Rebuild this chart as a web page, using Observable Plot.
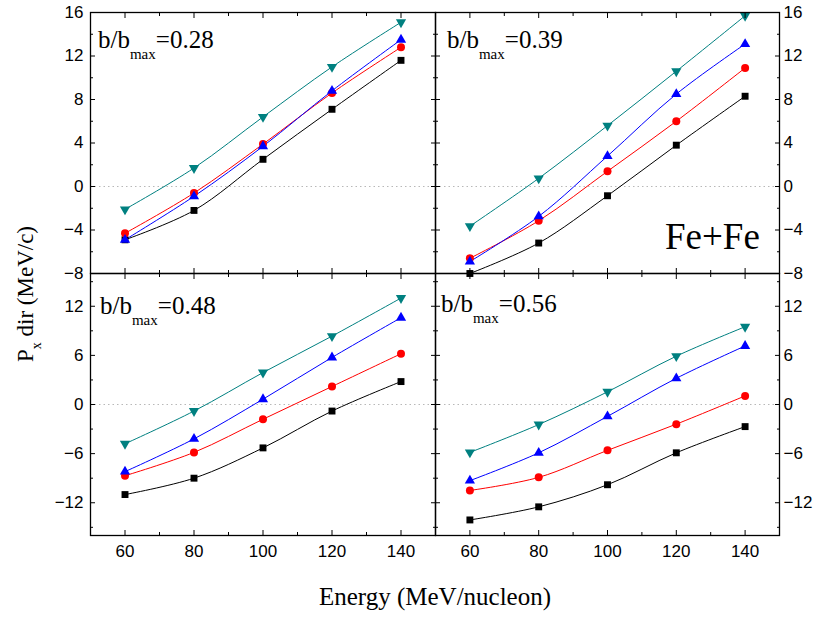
<!DOCTYPE html>
<html>
<head>
<meta charset="utf-8">
<script src="https://cdn.jsdelivr.net/npm/d3@7"></script>
<script src="https://cdn.jsdelivr.net/npm/@observablehq/plot@0.6"></script>
<style>
  html, body { margin: 0; padding: 0; background: #fff; }
  #wrap { position: relative; width: 813px; height: 618px; overflow: hidden; background: #fff; }
  #wrap > svg { position: absolute; overflow: visible; }
  .ann { position: absolute; left: 0; top: 0; pointer-events: none; }
</style>
</head>
<body>
<div id="wrap"></div>
<script>
// ---------------- data ----------------
const energy = [60, 80, 100, 120, 140];
const panelLabels = ["0.28", "0.39", "0.48", "0.56"];

// b/bmax = 0.28
const sq028 = [-4.9, -2.2, 2.5, 7.1, 11.6];
const ci028 = [-4.3, -0.6, 3.9, 8.6, 12.8];
const up028 = [-4.9, -0.9, 3.7, 8.8, 13.5];
const dn028 = [-2.1, 1.7, 6.4, 11.0, 15.1];
// b/bmax = 0.39
const sq039 = [-8.0, -5.2, -0.85, 3.8, 8.3];
const ci039 = [-6.6, -3.15, 1.4, 6.0, 10.9];
const up039 = [-6.9, -2.75, 2.8, 8.5, 13.1];
const dn039 = [-3.65, 0.75, 5.6, 10.6, 15.7];
// b/bmax = 0.48
const sq048 = [-11.0, -9.0, -5.3, -0.8, 2.8];
const ci048 = [-8.7, -5.85, -1.8, 2.2, 6.2];
const up048 = [-8.2, -4.2, 0.65, 5.75, 10.6];
const dn048 = [-4.8, -0.8, 3.9, 8.35, 13.0];
// b/bmax = 0.56
const sq056 = [-14.1, -12.5, -9.8, -5.9, -2.7];
const ci056 = [-10.5, -8.9, -5.6, -2.4, 1.05];
const up056 = [-9.3, -5.9, -1.45, 3.2, 7.15];
const dn056 = [-5.85, -2.45, 1.55, 5.9, 9.5];

// ticks
const xTicks = [60, 80, 100, 120, 140];
const xMinor = [50, 70, 90, 110, 130, 150];
const yTicksTop = [-8, -4, 0, 4, 8, 12, 16];
const yMinorTop = [-6, -2, 2, 6, 10, 14];
const yTicksBot = [-12, -6, 0, 6, 12];
const yMinorBot = [-15, -9, -3, 3, 9, 15];

// ---------------- styles ----------------
const downTriangle = {
  draw(ctx, size) {
    const y = -Math.sqrt(size / (Math.sqrt(3) * 3));
    ctx.moveTo(0, -y * 2);
    ctx.lineTo(-Math.sqrt(3) * y, y);
    ctx.lineTo(Math.sqrt(3) * y, y);
    ctx.closePath();
  }
};
const seriesStyle = [
  {key: "sq", color: "#000000", symbol: "square", r: 3.9},
  {key: "ci", color: "#ff0000", symbol: "circle", r: 4},
  {key: "up", color: "#0000ff", symbol: "triangle", r: 3.8},
  {key: "dn", color: "#008080", symbol: downTriangle, r: 3.8}
];
const panelData = [
  {sq: sq028, ci: ci028, up: up028, dn: dn028},
  {sq: sq039, ci: ci039, up: up039, dn: dn039},
  {sq: sq048, ci: ci048, up: up048, dn: dn048},
  {sq: sq056, ci: ci056, up: up056, dn: dn056}
];

const tickFont = {fontFamily: "'Liberation Sans', Arial, sans-serif", fontSize: 17, fill: "black"};

function makePanel(idx, cfg) {
  const vals = panelData[idx];
  const rows = [];
  seriesStyle.forEach(s => energy.forEach((e, i) => rows.push({series: s.key, energy: e, value: vals[s.key][i]})));
  const marks = [
    Plot.ruleY([0], {stroke: "#b8b8b8", strokeDasharray: "1.5,3", strokeWidth: 1})
  ];
  seriesStyle.forEach(s => {
    const d = rows.filter(r => r.series === s.key);
    marks.push(Plot.line(d, {x: "energy", y: "value", stroke: s.color, strokeWidth: 1, curve: "catmull-rom"}));
  });
  seriesStyle.forEach(s => {
    const d = rows.filter(r => r.series === s.key);
    marks.push(Plot.dot(d, {x: "energy", y: "value", fill: s.color, stroke: "none", symbol: s.symbol, r: s.r}));
  });
  const none = () => "";
  const labSide = cfg.side;
  const otherSide = labSide === "left" ? "right" : "left";
  // y axes
  marks.push(Plot.axisY(cfg.yTicks, {anchor: labSide, tickSize: -5, tickPadding: labSide === "left" ? 12 : 9, label: null, ...tickFont}));
  marks.push(Plot.axisY(cfg.yMinor, {anchor: labSide, tickSize: -3, tickFormat: none, label: null}));
  marks.push(Plot.axisY(cfg.yTicks, {anchor: otherSide, tickSize: -5, tickFormat: none, label: null}));
  marks.push(Plot.axisY(cfg.yMinor, {anchor: otherSide, tickSize: -3, tickFormat: none, label: null}));
  // x axes
  marks.push(Plot.axisX(xTicks, {anchor: "top", tickSize: -5, tickFormat: none, label: null}));
  marks.push(Plot.axisX(xMinor, {anchor: "top", tickSize: -3, tickFormat: none, label: null}));
  if (cfg.bottomLabels) {
    marks.push(Plot.axisX(xTicks, {anchor: "bottom", tickSize: -5, tickPadding: 14, label: null, ...tickFont}));
  } else {
    marks.push(Plot.axisX(xTicks, {anchor: "bottom", tickSize: -5, tickFormat: none, label: null}));
  }
  marks.push(Plot.axisX(xMinor, {anchor: "bottom", tickSize: -3, tickFormat: none, label: null}));
  marks.push(Plot.frame({stroke: "black", strokeWidth: 1.3}));

  const svg = Plot.plot({
    width: cfg.width, height: cfg.height,
    marginLeft: cfg.ml, marginRight: cfg.mr, marginTop: cfg.mt, marginBottom: cfg.mb,
    x: {domain: [50, 150]},
    y: {domain: cfg.yDomain},
    style: {background: "transparent", overflow: "visible"},
    marks
  });
  svg.style.left = cfg.left + "px";
  svg.style.top = cfg.top + "px";
  return svg;
}

const wrap = document.getElementById("wrap");
wrap.appendChild(makePanel(0, {left: 0, top: 0, width: 435, height: 273, ml: 90, mr: 0, mt: 12, mb: 0,
  yDomain: [-8, 16], yTicks: yTicksTop, yMinor: yMinorTop, side: "left", bottomLabels: false}));
wrap.appendChild(makePanel(1, {left: 435, top: 0, width: 378, height: 273, ml: 0, mr: 34, mt: 12, mb: 0,
  yDomain: [-8, 16], yTicks: yTicksTop, yMinor: yMinorTop, side: "right", bottomLabels: false}));
wrap.appendChild(makePanel(2, {left: 0, top: 273, width: 435, height: 345, ml: 90, mr: 0, mt: 0, mb: 83,
  yDomain: [-16, 16], yTicks: yTicksBot, yMinor: yMinorBot, side: "left", bottomLabels: true}));
wrap.appendChild(makePanel(3, {left: 435, top: 273, width: 378, height: 345, ml: 0, mr: 34, mt: 0, mb: 83,
  yDomain: [-16, 16], yTicks: yTicksBot, yMinor: yMinorBot, side: "right", bottomLabels: true}));

// ---------------- annotations ----------------
const ann = d3.select(wrap).append("svg").attr("class", "ann")
  .attr("width", 813).attr("height", 618)
  .style("font-family", "'Liberation Serif', 'Times New Roman', serif")
  .style("fill", "black");

const labelPos = [[98, 48], [447, 48], [100, 314], [441, 312]];
panelLabels.forEach((lab, i) => {
  const t = ann.append("text").attr("x", labelPos[i][0]).attr("y", labelPos[i][1]).style("font-size", "25px");
  t.append("tspan").text("b/b");
  t.append("tspan").attr("dy", 11).style("font-size", "15px").text("max");
  t.append("tspan").attr("dy", -11).text("=" + lab);
});

ann.append("text").attr("x", 665).attr("y", 249).style("font-size", "37px").text("Fe+Fe");

ann.append("text").attr("x", 435).attr("y", 605).attr("text-anchor", "middle")
  .style("font-size", "25px").text("Energy (MeV/nucleon)");

const yl = ann.append("text").attr("transform", "translate(33,362) rotate(-90)").style("font-size", "23px");
yl.append("tspan").text("P");
yl.append("tspan").attr("dy", 8).style("font-size", "14px").text("x");
yl.append("tspan").attr("dy", -8).text(" dir (MeV/c)");
</script>
</body>
</html>
